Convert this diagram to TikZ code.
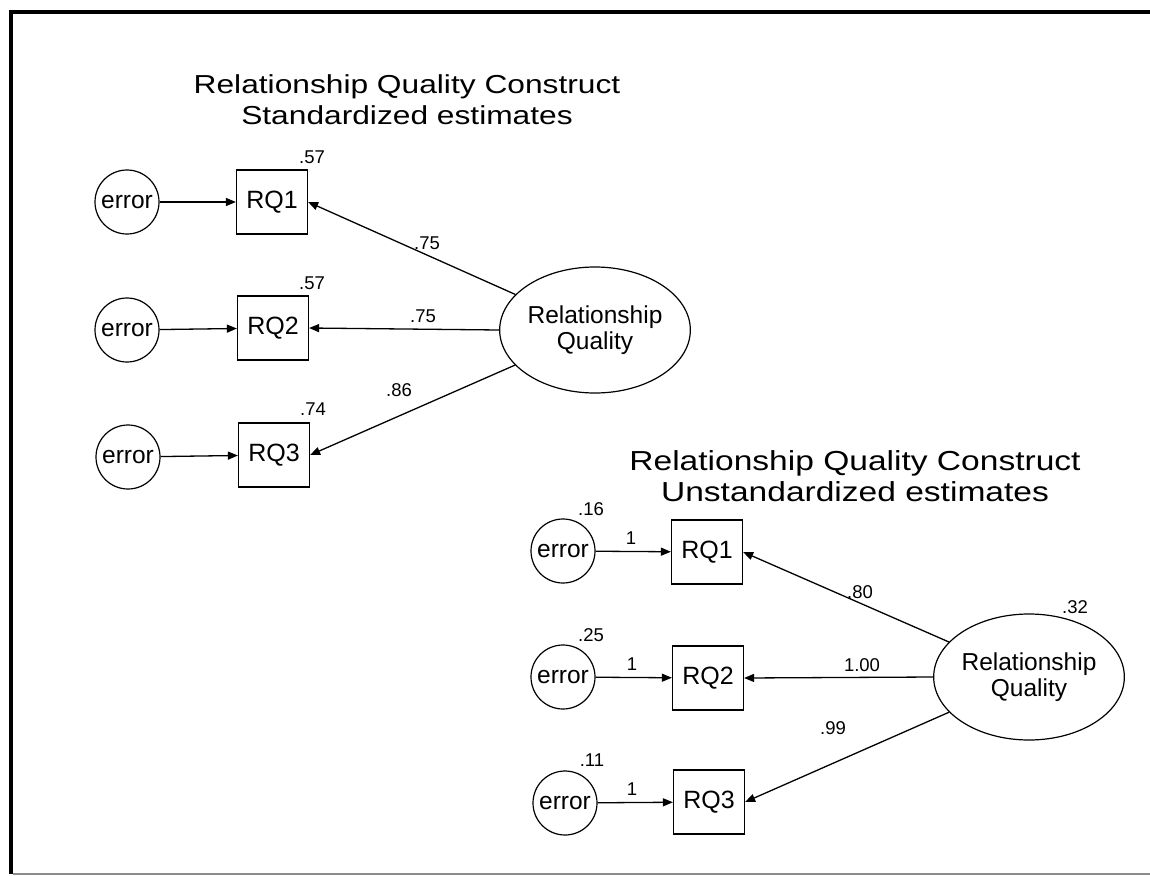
\documentclass[tikz,border=0pt]{standalone}
\usepackage{fontspec}
\setmainfont{Liberation Sans}
\newfontfamily\headfont[FakeStretch=1.22]{Liberation Sans}
\usetikzlibrary{shapes.geometric,arrows.meta}

\begin{document}
\begin{tikzpicture}[x=1pt,y=-1pt,
  lat/.style={draw, ellipse, line width=1.2pt, minimum width=176pt, minimum height=126pt,
              inner sep=0pt, align=center, font=\fontsize{24.5}{26}\selectfont},
  err/.style={draw, circle, line width=1.2pt, minimum size=64pt, inner sep=0pt,
              font=\fontsize{24.5}{26}\selectfont},
  obs/.style={draw, rectangle, line width=1.2pt, minimum width=71pt, minimum height=64pt,
              inner sep=0pt, font=\fontsize{25}{26}\selectfont},
  num/.style={inner sep=0pt, font=\fontsize{18.5}{20}\selectfont},
  head/.style={inner sep=0pt, anchor=north, align=center,
               font=\headfont\fontsize{26}{31}\selectfont},
  reg/.style={line width=1.3pt, -{Triangle[length=10pt,width=8pt]}},
]
\useasboundingbox (0,0) rectangle (1150,875);

% page frame
\draw[line width=4.5pt] (1160,12) -- (11,12) -- (11,874);
\draw[line width=1.5pt, black!45] (13,874) -- (1160,874);

% ---------- standardized model ----------
\node[head] (t1) at (407,74) {Relationship Quality Construct\\Standardized estimates};

\node[err] (se1) at (127,202) {error};
\node[err] (se2) at (127,330) {error};
\node[err] (se3) at (128,457) {error};

\node[obs] (sb1) at (272,202) {RQ1};
\node[obs] (sb2) at (273,328) {RQ2};
\node[obs] (sb3) at (274,455) {RQ3};

\node[lat] (sL) at (595,330) {Relationship\\Quality};

\draw[reg] (se1) -- (sb1);
\draw[reg] (se2) -- (sb2);
\draw[reg] (se3) -- (sb3);
\draw[reg] (sL) -- (sb1.east);
\draw[reg] (sL.west) -- (sb2.east);
\draw[reg] (sL) -- (sb3.east);

\node[num] (sr1) at (312,157) {.57};
\node[num] (sr2) at (312,283) {.57};
\node[num] (sr3) at (313,409) {.74};
\node[num] (sw1) at (427,243) {.75};
\node[num] (sw2) at (423,316) {.75};
\node[num] (sw3) at (399,390) {.86};

% ---------- unstandardized model ----------
\node[head, font=\headfont\fontsize{27.5}{31}\selectfont] (t2) at (855,450)
  {Relationship Quality Construct\\Unstandardized estimates};

\node[err] (ue1) at (563,551) {error};
\node[err] (ue2) at (563,677) {error};
\node[err] (ue3) at (565,803) {error};

\node[obs] (ub1) at (707,552) {RQ1};
\node[obs] (ub2) at (708,678) {RQ2};
\node[obs] (ub3) at (709,802) {RQ3};

\node[lat] (uL) at (1029,677) {Relationship\\Quality};

\draw[reg] (ue1) -- (ub1);
\draw[reg] (ue2) -- (ub2);
\draw[reg] (ue3) -- (ub3);
\draw[reg] (uL) -- (ub1.east);
\draw[reg] (uL.west) -- (ub2.east);
\draw[reg] (uL) -- (ub3.east);

\node[num] (uv1) at (591,509) {.16};
\node[num] (uv2) at (591,635) {.25};
\node[num] (uv3) at (592,760) {.11};
\node[num] (uf1) at (631,538) {1};
\node[num] (uf2) at (632,664) {1};
\node[num] (uf3) at (632,789) {1};
\node[num] (uw1) at (860,592) {.80};
\node[num] (uw2) at (862,665) {1.00};
\node[num] (uw3) at (833,728) {.99};
\node[num] (uvL) at (1075,607) {.32};
\end{tikzpicture}
\end{document}
